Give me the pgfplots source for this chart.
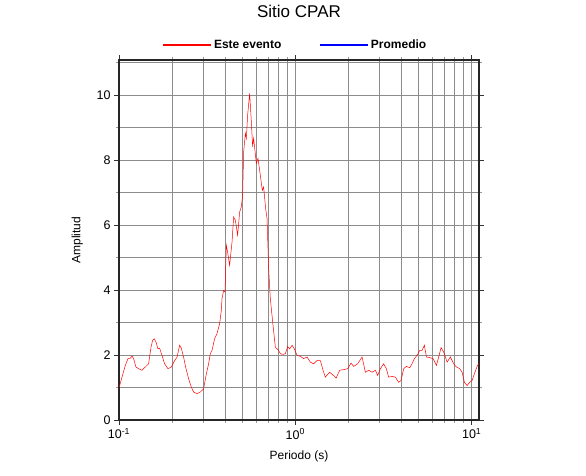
\documentclass[border=0pt]{standalone}
\usepackage{fontspec}
\setmainfont{Liberation Sans}
\usepackage{pgfplots}
\pgfplotsset{compat=1.18}
\begin{document}
\begin{tikzpicture}[x=1pt,y=1pt]
\path[use as bounding box] (0,0) rectangle (586,475);
\begin{axis}[
  at={(119pt,55pt)}, anchor=south west,
  scale only axis, width=360pt, height=360pt,
  xmode=log, xmin=0.1, xmax=11.0, ymin=0, ymax=11.08,
  xtick={0.1,1,10},
  xticklabels={10\textsuperscript{-1},10\textsuperscript{0},10\textsuperscript{1}},
  minor xtick={0.2,0.3,0.4,0.5,0.6,0.7,0.8,0.9,2,3,4,5,6,7,8,9},
  ytick={0,2,4,6,8,10},
  minor ytick={1,3,5,7,9,11},
  /pgf/number format/assume math mode=true,
  ticklabel style={font=\fontsize{12.5}{14}\selectfont},
  grid=both,
  major grid style={draw=black!45, line width=0.5pt},
  minor grid style={draw=black!45, line width=0.5pt},
  tick align=outside,
  major tick length=5pt, minor tick length=3pt,
  tick style={black!80, line width=0.7pt},
  minor tick style={black!40, line width=0.5pt},
  axis line style={black!85, line width=1.2pt},
  title={Sitio CPAR},
  title style={at={(0.5,1.119)}, anchor=center, font=\fontsize{17}{20}\selectfont},
  xlabel={Periodo (s)},
  xlabel style={at={(0.5,-0.1)}, anchor=center, font=\fontsize{12}{14}\selectfont},
  ylabel={Amplitud},
  ylabel style={at={(-0.116,0.5)}, anchor=center, font=\fontsize{12}{14}\selectfont},
  legend columns=2,
  legend style={draw=none, fill=none, at={(0.49,1.042)}, anchor=center,
    font=\bfseries\fontsize{12}{14}\selectfont,
    /tikz/every even column/.append style={column sep=36pt}},
  legend image code/.code={\draw[#1] (0pt,0pt) -- (48pt,0pt);},
]
\addplot[red, line width=0.5pt, forget plot] coordinates {
(0.1004,1.02) (0.1040,1.32) (0.1086,1.68) (0.1125,1.89) (0.1159,1.90) (0.1185,1.97)
(0.1210,1.89) (0.1248,1.63) (0.1292,1.58) (0.1350,1.53) (0.1410,1.63) (0.1472,1.73)
(0.1519,2.24) (0.1551,2.45) (0.1586,2.50) (0.1621,2.40) (0.1664,2.19) (0.1699,2.21)
(0.1753,1.99) (0.1814,1.73) (0.1896,1.58) (0.1980,1.63) (0.2067,1.83) (0.2133,1.93)
(0.2207,2.30) (0.2257,2.21) (0.2325,1.93) (0.2399,1.58) (0.2482,1.27) (0.2571,1.01)
(0.2650,0.86) (0.2770,0.81) (0.2891,0.86) (0.3019,0.96) (0.3115,1.37) (0.3222,1.73)
(0.3295,2.04) (0.3368,2.14) (0.3485,2.50) (0.3596,2.66) (0.3720,2.96) (0.3804,3.37)
(0.3838,3.73) (0.3920,3.99) (0.3992,3.94) (0.4060,5.38) (0.4130,5.17) (0.4239,4.76)
(0.4375,5.48) (0.4467,6.25) (0.4568,6.15) (0.4707,5.69) (0.4832,6.40) (0.4940,6.56)
(0.5025,6.92) (0.5091,8.25) (0.5205,8.82) (0.5274,8.67) (0.5363,9.38) (0.5506,10.05)
(0.5629,9.18) (0.5726,8.41) (0.5801,8.67) (0.6009,7.90) (0.6143,8.05) (0.6330,7.53)
(0.6497,7.07) (0.6609,7.17) (0.6785,6.51) (0.6911,6.20) (0.7057,4.66) (0.7214,3.73)
(0.7473,2.91) (0.7702,2.24) (0.8043,2.14) (0.8222,2.04) (0.8516,2.02) (0.8777,2.04)
(0.9043,2.26) (0.9283,2.19) (0.9578,2.30) (0.9870,2.19) (1.0224,1.99) (1.0675,1.96)
(1.1144,1.89) (1.1652,1.94) (1.2163,1.78) (1.2700,1.73) (1.3276,1.83) (1.3862,1.83)
(1.4359,1.53) (1.4797,1.32) (1.5650,1.47) (1.6495,1.37) (1.7023,1.29) (1.7841,1.53)
(1.8793,1.55) (1.9801,1.58) (2.0697,1.75) (2.1414,1.65) (2.2563,1.73) (2.3898,1.94)
(2.4953,1.47) (2.6051,1.53) (2.7234,1.47) (2.8433,1.53) (2.9298,1.37) (3.0348,1.58)
(3.1688,1.73) (3.2823,1.58) (3.3822,1.32) (3.5358,1.34) (3.6918,1.32) (3.8544,1.16)
(3.9770,1.22) (4.1150,1.58) (4.2626,1.65) (4.4502,1.61) (4.5918,1.73) (4.7315,1.89)
(4.9011,1.99) (5.0710,2.14) (5.2324,2.14) (5.3917,2.30) (5.5348,1.94) (5.7783,1.92)
(6.0407,1.89) (6.3066,1.68) (6.4983,1.94) (6.7053,2.23) (6.9378,2.09) (7.2520,1.78)
(7.5727,1.94) (7.9066,1.73) (8.1900,1.63) (8.5507,1.58) (8.8229,1.47) (9.0930,1.16)
(9.4191,1.06) (9.7432,1.16) (10.053,1.22) (10.359,1.42) (10.730,1.65) (11.0,1.75)
};
\addlegendimage{red, line width=1.5pt}
\addlegendentry{Este evento}
\addlegendimage{blue, line width=1.5pt}
\addlegendentry{Promedio}
\end{axis}
\end{tikzpicture}
\end{document}
